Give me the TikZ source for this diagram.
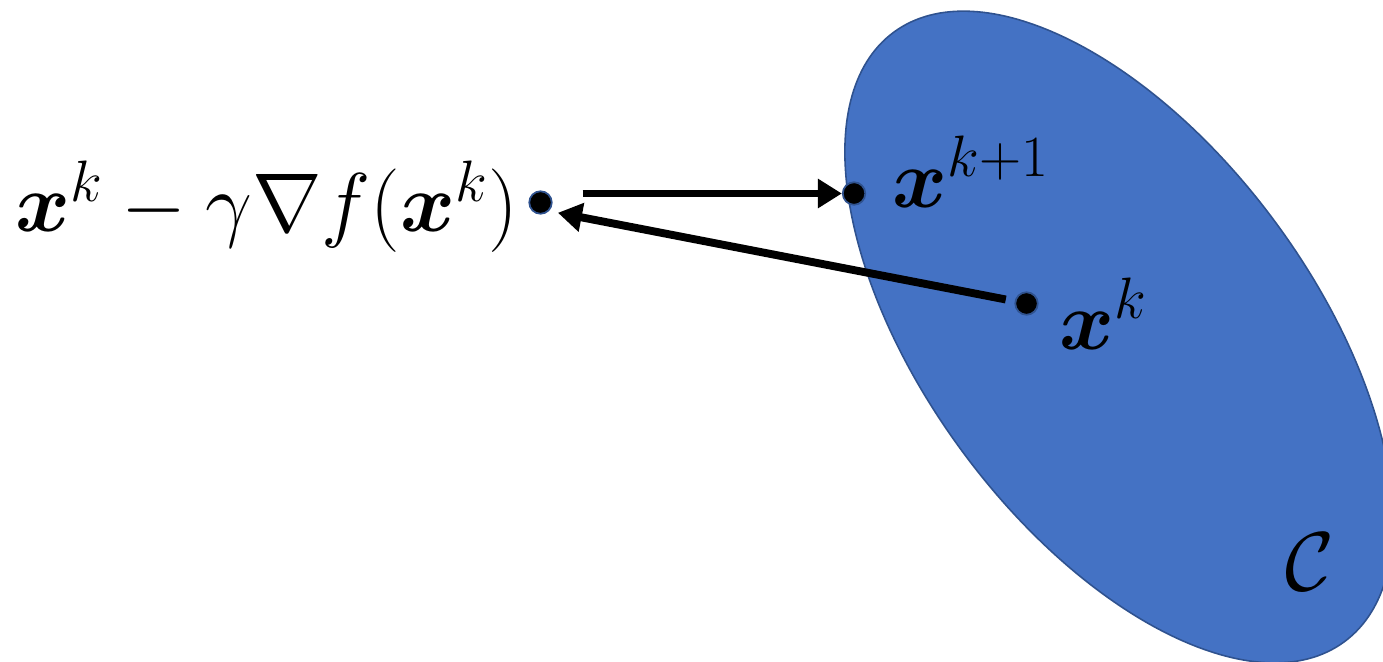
\RequirePackage{fix-cm}
\documentclass[tikz,border=0pt]{standalone}
\usepackage{amsmath,bm}
\usetikzlibrary{shapes.geometric,arrows.meta}

\definecolor{setblue}{HTML}{4472C4}
\definecolor{setedge}{HTML}{2F528F}

\begin{document}
\begin{tikzpicture}[
  >={Triangle[length=0.48cm,width=0.56cm]},
  move/.style={->,line width=4.5pt},
  iterate/.style={circle,fill=black,draw=setedge,line width=1pt,
                  minimum size=0.45cm,inner sep=0pt},
  lbl/.style={inner sep=0pt,font=\fontsize{47.5}{57}\selectfont}
]
  \useasboundingbox (0,0) rectangle (27.66,-13.22);
  % the set C, cut off by the page edge
  \begin{scope}
    \clip (0,0) rectangle (27.66,-13.22);
    \node[ellipse,draw=setedge,line width=0.9pt,fill=setblue,inner sep=0pt,
          minimum width=15.16cm,minimum height=7.76cm,rotate=-53.5]
          (set) at (22.38,-6.74) {};
  \end{scope}

  \node[iterate] (grad) at (10.81,-4.05) {};
  \node[iterate] (next) at (17.08,-3.87) {};
  \node[iterate] (cur)  at (20.53,-6.07) {};

  \node[lbl,anchor=base east] (gradlbl) at ([xshift=-0.45cm,yshift=-0.58cm]grad.center)
    {$\bm{x}^k-\gamma\nabla f(\bm{x}^k)$};
  \node[lbl,anchor=base west] (nextlbl) at ([xshift=0.76cm,yshift=-0.27cm]next.center)
    {$\bm{x}^{k+1}$};
  \node[lbl,anchor=base west] (curlbl) at ([xshift=0.66cm,yshift=-0.91cm]cur.center)
    {$\bm{x}^k$};
  \node[lbl,anchor=base west] (setlbl) at (25.7,-11.8) {$\mathcal{C}$};

  % gradient step, then projection back onto C
  \draw[move,shorten <=0.6cm] (grad.east |- next.west) -- (next.west);
  \draw[move,shorten <=0.18cm,shorten >=0.18cm] (cur) -- (grad.south east);
\end{tikzpicture}
\end{document}
